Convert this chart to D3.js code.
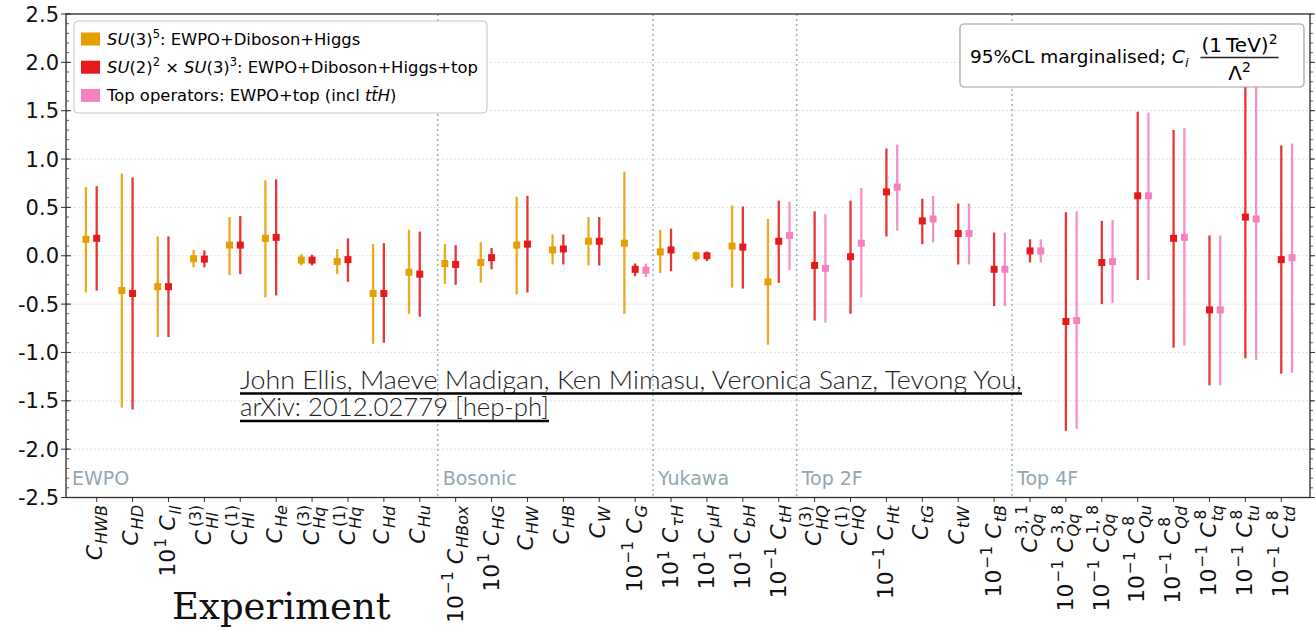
<!DOCTYPE html>
<html>
<head>
<meta charset="utf-8">
<script src="https://cdn.jsdelivr.net/npm/d3@7"></script>
<style>
  body { margin: 0; background: #fff; }
  svg { font-family: "DejaVu Sans", sans-serif; }
</style>
</head>
<body>
<div id="vis"></div>
<script>
// operator labels: power-of-ten prefix, subscript, superscript
var opPrefix = ["", "", "1", "", "", "", "", "", "", "",
                "−1", "1", "", "", "", "−1",
                "1", "1", "1", "−1",
                "", "", "−1", "", "", "−1",
                "", "−1", "−1", "−1", "−1", "−1", "−1", "−1"];
var opSub = ["HWB", "HD", "ll", "Hl", "Hl", "He", "Hq", "Hq", "Hd", "Hu",
             "HBox", "HG", "HW", "HB", "W", "G",
             "τH", "μH", "bH", "tH",
             "HQ", "HQ", "Ht", "tG", "tW", "tB",
             "Qq", "Qq", "Qq", "Qu", "Qd", "tq", "tu", "td"];
var opSup = ["", "", "", "(3)", "(1)", "", "(3)", "(1)", "", "",
             "", "", "", "", "", "",
             "", "", "", "",
             "(3)", "(1)", "", "", "", "",
             "3, 1", "3, 8", "1, 8", "8", "8", "8", "8", "8"];

var sectionNames = ["EWPO", "Bosonic", "Yukawa", "Top 2F", "Top 4F"];
var sectionStart = [0, 10, 16, 20, 26];

var yTicks = [-2.5, -2.0, -1.5, -1.0, -0.5, 0.0, 0.5, 1.0, 1.5, 2.0, 2.5];

// SU(3)^5 fit (EWPO+Diboson+Higgs)
var su3Val = [0.17, -0.36, -0.32, -0.03, 0.11, 0.18, -0.045, -0.06, -0.39, -0.17,
              -0.08, -0.07, 0.11, 0.06, 0.15, 0.13, 0.04, 0.00, 0.10, -0.27];
var su3Lo  = [-0.38, -1.57, -0.84, -0.12, -0.20, -0.43, -0.10, -0.19, -0.91, -0.60,
              -0.29, -0.28, -0.40, -0.09, -0.10, -0.60, -0.18, -0.055, -0.33, -0.92];
var su3Hi  = [0.71, 0.85, 0.20, 0.06, 0.40, 0.78, 0.015, 0.07, 0.12, 0.27,
              0.12, 0.14, 0.61, 0.22, 0.40, 0.87, 0.27, 0.045, 0.52, 0.38];

// SU(2)^2 x SU(3)^3 fit (EWPO+Diboson+Higgs+top)
var topVal = [0.18, -0.39, -0.32, -0.035, 0.11, 0.19, -0.045, -0.04, -0.39, -0.19,
              -0.09, -0.02, 0.12, 0.07, 0.15, -0.14, 0.06, 0.00, 0.09, 0.15,
              -0.10, -0.01, 0.66, 0.36, 0.23, -0.14,
              0.05, -0.68, -0.07, 0.62, 0.18, -0.56, 0.40, -0.04];
var topLo  = [-0.36, -1.59, -0.84, -0.12, -0.19, -0.41, -0.10, -0.27, -0.90, -0.63,
              -0.30, -0.14, -0.38, -0.09, -0.10, -0.21, -0.16, -0.055, -0.34, -0.28,
              -0.67, -0.60, 0.20, 0.12, -0.09, -0.52,
              -0.07, -1.81, -0.50, -0.25, -0.95, -1.34, -1.06, -1.22];
var topHi  = [0.72, 0.81, 0.20, 0.055, 0.41, 0.79, 0.01, 0.18, 0.13, 0.25,
              0.11, 0.08, 0.62, 0.22, 0.40, -0.08, 0.28, 0.045, 0.51, 0.57,
              0.46, 0.57, 1.11, 0.59, 0.54, 0.24,
              0.17, 0.45, 0.36, 1.49, 1.30, 0.21, 1.90, 1.14];

// top operators only (EWPO+top incl ttH)
var topOnlyVal = [null, null, null, null, null, null, null, null, null, null,
                  null, null, null, null, null, -0.15, null, null, null, 0.21,
                  -0.13, 0.13, 0.71, 0.38, 0.23, -0.14,
                  0.05, -0.67, -0.06, 0.62, 0.19, -0.56, 0.38, -0.02];
var topOnlyLo  = [null, null, null, null, null, null, null, null, null, null,
                  null, null, null, null, null, -0.22, null, null, null, -0.15,
                  -0.69, -0.43, 0.26, 0.14, -0.09, -0.52,
                  -0.07, -1.79, -0.49, -0.25, -0.93, -1.34, -1.08, -1.21];
var topOnlyHi  = [null, null, null, null, null, null, null, null, null, null,
                  null, null, null, null, null, -0.08, null, null, null, 0.56,
                  0.43, 0.70, 1.15, 0.62, 0.54, 0.24,
                  0.17, 0.46, 0.37, 1.48, 1.32, 0.21, 1.88, 1.16];

var W = 1315, H = 630;
var F = 22; // tick label size

var svg = d3.select("#vis").append("svg")
    .attr("width", W)
    .attr("height", H);

var x = d3.scaleLinear().domain([-0.855, 33.8]).range([66, 1310]);
var y = d3.scaleLinear().domain([-2.5, 2.5]).range([497.5, 14]);

// horizontal grid
svg.selectAll(".grid")
    .data(yTicks.slice(1, -1))
    .enter().append("line")
    .attr("x1", x.range()[0]).attr("x2", x.range()[1])
    .attr("y1", function(d) { return y(d); })
    .attr("y2", function(d) { return y(d); })
    .attr("stroke", "#d4d4d4")
    .attr("stroke-width", 1)
    .attr("stroke-dasharray", "1.5,2.5");

// section separators + names
svg.selectAll(".sep")
    .data(sectionStart.slice(1))
    .enter().append("line")
    .attr("x1", function(d) { return x(d - 0.5); })
    .attr("x2", function(d) { return x(d - 0.5); })
    .attr("y1", y(2.5)).attr("y2", y(-2.5))
    .attr("stroke", "#9fb1bc")
    .attr("stroke-width", 1.5)
    .attr("stroke-dasharray", "2,3");

svg.selectAll(".secname")
    .data(sectionNames)
    .enter().append("text")
    .attr("x", function(d, i) { return i === 0 ? x.range()[0] + 6 : x(sectionStart[i] - 0.5) + 5; })
    .attr("y", 485)
    .attr("fill", "#93a6b1")
    .style("font-size", "19px")
    .text(function(d) { return d; });

// error bars
var series = [
  { val: su3Val, lo: su3Lo, hi: su3Hi, off: -0.3, color: "#E69F00" },
  { val: topVal, lo: topLo, hi: topHi, off: 0, color: "#E41A1C" },
  { val: topOnlyVal, lo: topOnlyLo, hi: topOnlyHi, off: 0.3, color: "#F781BF" }
];

series.forEach(function(s) {
  var pts = s.val.map(function(v, i) { return { i: i, v: v, lo: s.lo[i], hi: s.hi[i] }; })
      .filter(function(d) { return d.v !== null; });
  var g = svg.append("g");
  g.selectAll("line").data(pts).enter().append("line")
      .attr("x1", function(d) { return x(d.i + s.off); })
      .attr("x2", function(d) { return x(d.i + s.off); })
      .attr("y1", function(d) { return y(d.lo); })
      .attr("y2", function(d) { return y(d.hi); })
      .attr("stroke", s.color)
      .attr("stroke-opacity", 0.88)
      .attr("stroke-width", 2.3);
  g.selectAll("rect").data(pts).enter().append("rect")
      .attr("x", function(d) { return x(d.i + s.off) - 3.5; })
      .attr("y", function(d) { return y(d.v) - 3.5; })
      .attr("width", 7).attr("height", 7)
      .attr("fill", s.color);
});

// citation
var cite = svg.append("g").style("font-family", "Lato, 'Open Sans', sans-serif")
    .style("font-weight", 300).style("font-size", "24.5px").attr("fill", "#222");
cite.append("text").attr("x", 240).attr("y", 389)
    .attr("textLength", 782).attr("lengthAdjust", "spacingAndGlyphs")
    .text("John Ellis, Maeve Madigan, Ken Mimasu, Veronica Sanz, Tevong You,");
cite.append("text").attr("x", 240).attr("y", 416)
    .attr("textLength", 309).attr("lengthAdjust", "spacingAndGlyphs")
    .text("arXiv: 2012.02779 [hep-ph]");
cite.append("line").attr("x1", 240).attr("x2", 1022).attr("y1", 393.5).attr("y2", 393.5)
    .attr("stroke", "#000").attr("stroke-width", 2.5);
cite.append("line").attr("x1", 240).attr("x2", 549).attr("y1", 421).attr("y2", 421)
    .attr("stroke", "#000").attr("stroke-width", 2.5);

// text helper: lays out parts left to right, returns width
function rich(g, parts, x0, y0, size) {
  var cx = x0;
  parts.forEach(function(p) {
    var small = p.sup || p.sub;
    var t = g.append("text")
        .attr("x", cx)
        .attr("y", y0 + (p.sup ? -size * 0.42 : p.sub ? size * 0.22 : 0))
        .style("font-size", (small ? size * 0.7 : size) + "px")
        .style("font-style", p.it ? "italic" : "normal")
        .style("white-space", "pre")
        .text(p.t);
    cx += t.node().getComputedTextLength();
  });
  return cx - x0;
}

// legend
var legendColors = ["#E69F00", "#E41A1C", "#F781BF"];
var legendParts = [
  [{ t: "SU", it: 1 }, { t: "(3)" }, { t: "5", sup: 1 }, { t: ": EWPO+Diboson+Higgs" }],
  [{ t: "SU", it: 1 }, { t: "(2)" }, { t: "2", sup: 1 }, { t: " × " }, { t: "SU", it: 1 },
   { t: "(3)" }, { t: "3", sup: 1 }, { t: ": EWPO+Diboson+Higgs+top" }],
  [{ t: "Top operators: EWPO+top (incl " }, { t: "tt\u0304H", it: 1 }, { t: ")" }]
];
var leg = svg.append("g");
leg.append("rect").attr("x", 74).attr("y", 21).attr("width", 413).attr("height", 92)
    .attr("rx", 4).attr("fill", "#fff").attr("stroke", "#c6c6c6").attr("stroke-width", 1);
legendParts.forEach(function(parts, i) {
  var cy = 39 + i * 28.2;
  leg.append("rect").attr("x", 81).attr("y", cy - 6.5).attr("width", 19).attr("height", 13)
      .attr("fill", legendColors[i]);
  rich(leg, parts, 107, cy + 6, 16.4);
});

// annotation box
var box = svg.append("g");
box.append("rect").attr("x", 960).attr("y", 24).attr("width", 344).attr("height", 63)
    .attr("rx", 4).attr("fill", "#fff").attr("stroke", "#a0a0a0").attr("stroke-width", 1.2);
var bx = 970, by = 63;
bx += rich(box, [{ t: "95%CL marginalised; " }, { t: "C", it: 1 }, { t: "i", sub: 1, it: 1 }], bx, by, 18.5);
bx += 13;
var nw = rich(box, [{ t: "(1\u2009TeV)" }, { t: "2", sup: 1 }], bx, 52, 20);
box.append("line").attr("x1", bx - 1).attr("x2", bx + nw + 1).attr("y1", 57.5).attr("y2", 57.5)
    .attr("stroke", "#222").attr("stroke-width", 1.3);
var dg = box.append("g");
var dw = rich(dg, [{ t: "Λ" }, { t: "2", sup: 1 }], 0, 80, 20);
dg.attr("transform", "translate(" + (bx + (nw - dw) / 2) + ",0)");

// frame
svg.append("rect").attr("x", 66).attr("y", 14).attr("width", 1244).attr("height", 483.5)
    .attr("fill", "none").attr("stroke", "#2a2a2a").attr("stroke-width", 1.3);

// y ticks
var minor = d3.range(-25, 26).map(function(k) { return k / 10; });
svg.selectAll(".ymin").data(minor).enter().append("line")
    .attr("x1", 66).attr("x2", 69)
    .attr("y1", function(d) { return y(d); }).attr("y2", function(d) { return y(d); })
    .attr("stroke", "#333").attr("stroke-width", 0.8);
svg.selectAll(".ymin2").data(minor).enter().append("line")
    .attr("x1", 1310).attr("x2", 1313)
    .attr("y1", function(d) { return y(d); }).attr("y2", function(d) { return y(d); })
    .attr("stroke", "#333").attr("stroke-width", 0.8);
svg.selectAll(".ymaj").data(yTicks).enter().append("line")
    .attr("x1", 61).attr("x2", 71)
    .attr("y1", function(d) { return y(d); }).attr("y2", function(d) { return y(d); })
    .attr("stroke", "#333").attr("stroke-width", 1);
svg.selectAll(".ymaj2").data(yTicks).enter().append("line")
    .attr("x1", 1310).attr("x2", 1315)
    .attr("y1", function(d) { return y(d); }).attr("y2", function(d) { return y(d); })
    .attr("stroke", "#333").attr("stroke-width", 1);
svg.selectAll(".ylab").data(yTicks).enter().append("text")
    .attr("x", 59).attr("y", function(d) { return y(d); })
    .attr("dy", "0.36em")
    .attr("text-anchor", "end")
    .style("font-size", "21px")
    .attr("fill", "#111")
    .text(function(d) { return d.toFixed(1); });

// x ticks and rotated operator labels
svg.selectAll(".xt").data(opSub).enter().append("line")
    .attr("x1", function(d, i) { return x(i); }).attr("x2", function(d, i) { return x(i); })
    .attr("y1", 497.5).attr("y2", 502)
    .attr("stroke", "#333").attr("stroke-width", 1);

function piece(g, str, px, py, size, it) {
  var t = g.append("text").attr("x", px).attr("y", py)
      .style("font-size", size + "px")
      .style("font-style", it ? "italic" : "normal")
      .attr("fill", "#111")
      .text(str);
  return t.node().getComputedTextLength();
}

opSub.forEach(function(sub, i) {
  var g = svg.append("g");
  var inner = g.append("g");
  var cx = 0;
  if (opPrefix[i]) {
    cx += piece(inner, "10", cx, 0, F, false);
    cx += piece(inner, opPrefix[i], cx + 1, -F * 0.42, F * 0.7, false) + 1;
    cx += F * 0.32;
  }
  cx += piece(inner, "C", cx, 0, F, true) + 1;
  piece(inner, sub, cx, opSup[i] ? F * 0.3 : F * 0.24, F * 0.73, true);
  if (opSup[i]) piece(inner, opSup[i], cx + 2, -F * 0.46, F * 0.7, false);
  var bb = inner.node().getBBox();
  inner.attr("transform", "translate(" + (-(bb.x + bb.width)) + "," + (-(bb.y + bb.height / 2)) + ")");
  g.attr("transform", "translate(" + x(i) + ",505) rotate(-90)");
});

// bottom caption
svg.append("text").attr("x", 172).attr("y", 619)
    .style("font-family", "'DejaVu Serif', serif")
    .style("font-size", "37px")
    .attr("fill", "#111")
    .text("Experiment");
</script>
</body>
</html>
